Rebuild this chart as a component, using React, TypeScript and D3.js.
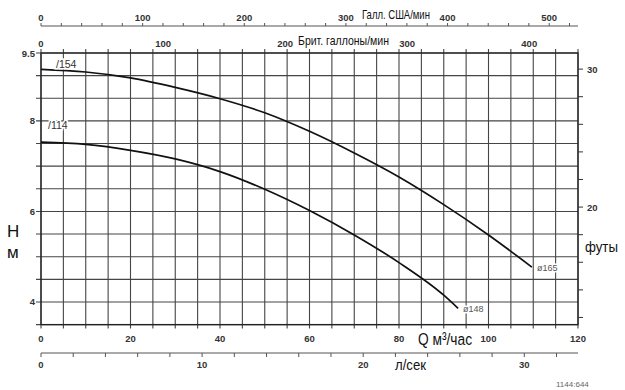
import React, { useLayoutEffect, useRef, useState } from "react";
import * as d3 from "d3";

// Flow (m³/h) sample points and heads (m)
const q165 = [0, 10, 20, 30, 40, 50, 60, 70, 80, 90, 100, 109.7];
const h165 = [9.14, 9.08, 8.95, 8.74, 8.49, 8.18, 7.77, 7.29, 6.76, 6.15, 5.48, 4.77];
const q148 = [0, 10, 20, 30, 40, 50, 60, 70, 80, 90, 93.2];
const h148 = [7.53, 7.48, 7.35, 7.16, 6.88, 6.49, 6.02, 5.48, 4.87, 4.15, 3.86];

const qTickLabels = [0, 20, 40, 60, 80, 100, 120];
const hTickLabels = [9.5, 8, 6, 4];
const ftTickLabels = [20, 30];
const usGpmLabels = [0, 100, 200, 300, 400, 500];
const ukGpmLabels = [0, 100, 200, 300, 400];
const lsLabels = [0, 10, 20, 30];

const US_PER_M3H = 4.40287;
const UK_PER_M3H = 3.66615;
const M_PER_FT = 0.3048;

const W = 625, H = 390;
const L = 41, R = 578, T = 53, B = 324.6;

function FitText({ x, y, width, size, children }: { x: number; y: number; width: number; size: number; children: React.ReactNode }) {
  const ref = useRef<SVGTextElement>(null);
  const [sx, setSx] = useState(0.8);
  useLayoutEffect(() => {
    if (ref.current) {
      const w = ref.current.getComputedTextLength();
      if (w > 0) setSx(width / w);
    }
  }, [width, size]);
  return (
    <g transform={`translate(${x},${y}) scale(${sx},1)`}>
      <text ref={ref} x={0} y={0} fontSize={size} fontFamily="Liberation Sans, Arial, sans-serif" fill="#111">{children}</text>
    </g>
  );
}

export default function App() {
  const x = d3.scaleLinear().domain([0, 120]).range([L, R]);
  const y = d3.scaleLinear().domain([3.5, 9.5]).range([B, T]);
  const line = d3.line<[number, number]>().x(d => x(d[0])).y(d => y(d[1])).curve(d3.curveMonotoneX);

  const d165 = line(q165.map((q, i) => [q, h165[i]]) as [number, number][]) || "";
  const d148 = line(q148.map((q, i) => [q, h148[i]]) as [number, number][]) || "";

  const vGrid = d3.range(0, 120.001, 5);
  const hGrid = d3.range(3.5, 9.5001, 0.5);
  const ftTicks = d3.range(12, 30.001, 2);
  const usTicks = d3.range(0, 520.001, 20);
  const lsTicks = d3.range(0, 32.001, 2);

  const tickFont = { fontFamily: "Liberation Sans, Arial, sans-serif", fontSize: 9.5, fontWeight: 700, fill: "#333" } as const;
  const gridColor = "#454545";
  const usY = 26;
  const lsY = 353;

  const last165 = q165.length - 1;
  const last148 = q148.length - 1;

  return (
    <svg width={W} height={H} style={{ position: "absolute", left: 0, top: 0, background: "#fff" }}>
      <rect x={0} y={0} width={W} height={H} fill="#fff" />
      {/* grid */}
      {vGrid.map(v => (
        <line key={"v" + v} x1={x(v)} x2={x(v)} y1={T - 4} y2={B + 4} stroke={gridColor} strokeWidth={1.1} />
      ))}
      {hGrid.map(v => (
        <line key={"h" + v} x1={L - 5} x2={R} y1={y(v)} y2={y(v)} stroke={gridColor} strokeWidth={1.1} />
      ))}
      <rect x={L} y={T} width={R - L} height={B - T} fill="none" stroke="#222" strokeWidth={1.3} />

      {/* left labels */}
      {hTickLabels.map(v => (
        <text key={"hl" + v} x={35} y={y(v) + 3.5} textAnchor="end" {...tickFont}>{v}</text>
      ))}
      {/* right feet axis */}
      {ftTicks.map(f => (
        <line key={"ft" + f} x1={R} x2={R + 5} y1={y(f * M_PER_FT)} y2={y(f * M_PER_FT)} stroke="#333" strokeWidth={1} />
      ))}
      {ftTickLabels.map(f => (
        <text key={"ftl" + f} x={587} y={y(f * M_PER_FT) + 3.5} {...tickFont}>{f}</text>
      ))}

      {/* bottom m3/h labels */}
      {qTickLabels.map(v => (
        <text key={"ql" + v} x={x(v)} y={342} textAnchor="middle" {...tickFont}>{v}</text>
      ))}

      {/* l/s axis */}
      <line x1={L} x2={R} y1={lsY} y2={lsY} stroke="#555" strokeWidth={1} />
      {lsTicks.map(v => (
        <line key={"ls" + v} x1={x(v * 3.6)} x2={x(v * 3.6)} y1={lsY} y2={lsY + 4} stroke="#555" strokeWidth={1} />
      ))}
      {lsLabels.map(v => (
        <text key={"lsl" + v} x={x(v * 3.6)} y={368} textAnchor="middle" {...tickFont}>{v}</text>
      ))}

      {/* US gpm axis */}
      <line x1={L} x2={R} y1={usY} y2={usY} stroke="#555" strokeWidth={1} />
      {usTicks.map(v => (
        <line key={"us" + v} x1={x(v / US_PER_M3H)} x2={x(v / US_PER_M3H)} y1={usY - 3} y2={usY} stroke="#555" strokeWidth={1} />
      ))}
      {usGpmLabels.map(v => (
        <text key={"usl" + v} x={x(v / US_PER_M3H)} y={21} textAnchor="middle" {...tickFont}>{v}</text>
      ))}
      {/* UK gpm labels */}
      {ukGpmLabels.map(v => (
        <text key={"ukl" + v} x={x(v / UK_PER_M3H)} y={47} textAnchor="middle" {...tickFont}>{v}</text>
      ))}

      {/* curves */}
      <path d={d165} fill="none" stroke="#111" strokeWidth={1.7} />
      <path d={d148} fill="none" stroke="#111" strokeWidth={1.7} />

      {/* curve labels */}
      <text x={56} y={68} fontFamily="Liberation Sans, Arial, sans-serif" fontSize={10.5} fill="#333"
        stroke="#fff" strokeWidth={3} paintOrder="stroke">/154</text>
      <text x={48} y={129} fontFamily="Liberation Sans, Arial, sans-serif" fontSize={10.5} fill="#333"
        stroke="#fff" strokeWidth={3} paintOrder="stroke">/114</text>
      <text x={x(q165[last165]) + 5} y={y(h165[last165]) + 3.5} fontFamily="Liberation Sans, Arial, sans-serif" fontSize={9} fill="#555"
        stroke="#fff" strokeWidth={3} paintOrder="stroke">ø165</text>
      <text x={x(q148[last148]) + 5} y={y(h148[last148]) + 3.5} fontFamily="Liberation Sans, Arial, sans-serif" fontSize={9} fill="#555"
        stroke="#fff" strokeWidth={3} paintOrder="stroke">ø148</text>

      {/* axis titles */}
      <FitText x={362} y={19} width={68} size={13}>Галл. США/мин</FitText>
      <FitText x={298} y={45} width={91} size={13}>Брит. галлоны/мин</FitText>
      <FitText x={418} y={345} width={54} size={17}>Q м³/час</FitText>
      <FitText x={395} y={370} width={31} size={15}>л/сек</FitText>
      <FitText x={585} y={252} width={33} size={15}>футы</FitText>
      <text x={7} y={237} fontSize={17} fontFamily="Liberation Sans, Arial, sans-serif" fill="#111">Н</text>
      <text x={7} y={258} fontSize={17} fontFamily="Liberation Sans, Arial, sans-serif" fill="#111">м</text>
      <text x={556} y={387} fontSize={8} fontFamily="Liberation Sans, Arial, sans-serif" fill="#666">1144:644</text>
    </svg>
  );
}
